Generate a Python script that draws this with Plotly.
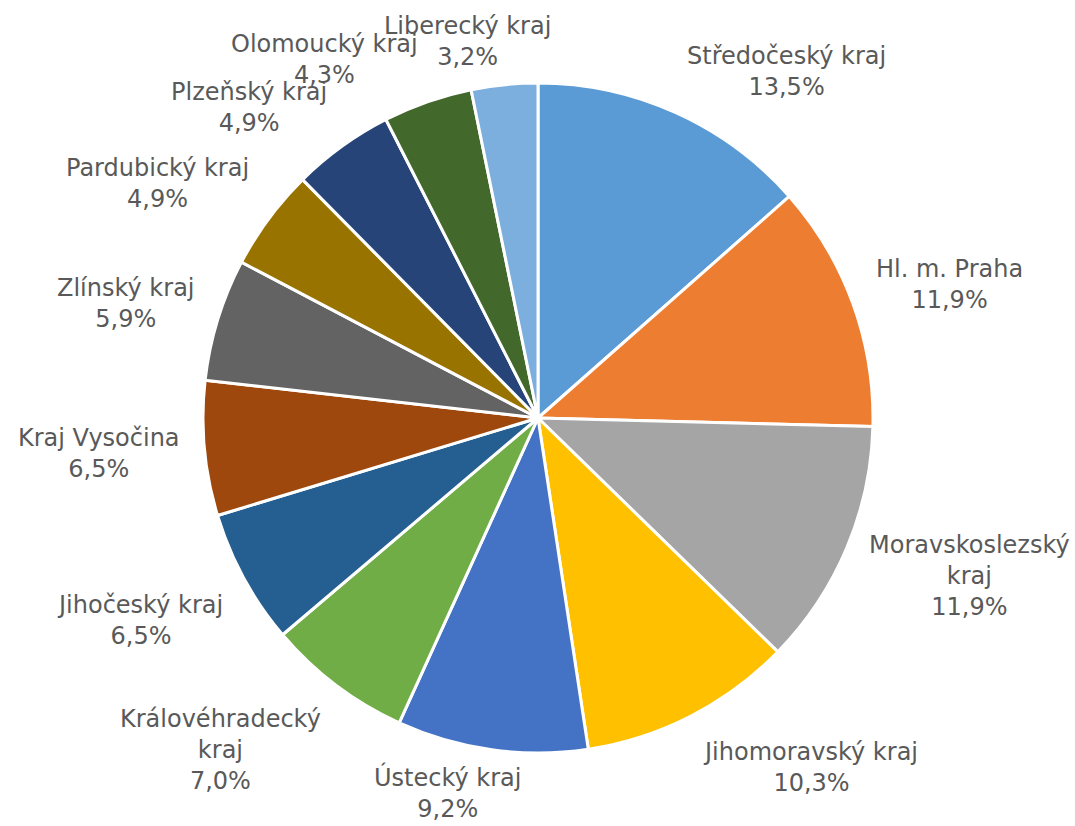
import math
import plotly.graph_objects as go

regions = ["Středočeský kraj", "Hl. m. Praha", "Moravskoslezský kraj", "Jihomoravský kraj",
           "Ústecký kraj", "Královéhradecký kraj", "Jihočeský kraj", "Kraj Vysočina",
           "Zlínský kraj", "Pardubický kraj", "Plzeňský kraj", "Olomoucký kraj", "Liberecký kraj"]
label_lines = ["Středočeský kraj", "Hl. m. Praha", "Moravskoslezský<br>kraj", "Jihomoravský kraj",
               "Ústecký kraj", "Královéhradecký<br>kraj", "Jihočeský kraj", "Kraj Vysočina",
               "Zlínský kraj", "Pardubický kraj", "Plzeňský kraj", "Olomoucký kraj", "Liberecký kraj"]
shares = [13.5, 11.9, 11.9, 10.3, 9.2, 7.0, 6.5, 6.5, 5.9, 4.9, 4.9, 4.3, 3.2]
colors = ["#5B9BD5", "#ED7D31", "#A5A5A5", "#FFC000", "#4472C4", "#70AD47", "#255E91",
          "#9E480E", "#636363", "#997300", "#264478", "#43682B", "#7CAFDD"]

W, H = 1075, 826
cx, cy, R = 538, 418, 335  # pie centre and radius in px
gap = 22
fs = 24
line_h = 1.3 * fs
char_w = 0.52 * fs  # rough average glyph width
desc_pad = 10       # box space below the last baseline

fig = go.Figure(go.Pie(
    labels=regions, values=shares, sort=False, direction="clockwise", rotation=0,
    marker=dict(colors=colors, line=dict(color="white", width=3)),
    textinfo="none", hoverinfo="label+percent", showlegend=False,
    domain=dict(x=[(cx - R) / W, (cx + R) / W], y=[(H - cy - R) / H, (H - cy + R) / H]),
))

total = sum(shares)
cum = 0.0
annotations = []
for name, val in zip(label_lines, shares):
    mid = (cum + val / 2) / total * 2 * math.pi
    cum += val
    dx, dy = math.sin(mid), -math.cos(mid)  # screen coords (y down)
    ax = cx + (R + gap) * dx
    ay = cy + (R + gap) * dy
    nlines = name.count("<br>") + 2
    bh = nlines * line_h + 4
    bw = max(len(s) for s in name.split("<br>")) * char_w
    if abs(dx) < 0.25:
        xa = "center"
        ax += dx / 0.25 * bw / 2
    else:
        xa = "left" if dx > 0 else "right"
    if abs(dy) < 0.4:
        ya = "middle"
        ay += dy * bh / 2
        top = ay - bh / 2
    elif dy > 0:
        ya = "top"
        top = ay
    else:
        ya = "bottom"
        ay += desc_pad
        top = ay - bh
    # keep the label box inside the page
    shift = 0.0
    if top < 0:
        shift = -top
    elif top + bh > H:
        shift = H - (top + bh)
    ay += shift
    pct = f"{val:.1f}".replace(".", ",") + "%"
    txt = f"{name}<br>{pct}"
    annotations.append(dict(
        x=ax / W, y=1 - ay / H, xref="paper", yref="paper", text=txt, showarrow=False,
        xanchor=xa, yanchor=ya, align="center",
        font=dict(family="DejaVu Sans", size=fs, color="#595959"),
    ))

fig.update_layout(
    width=W, height=H, margin=dict(l=0, r=0, t=0, b=0),
    paper_bgcolor="white", plot_bgcolor="white",
    annotations=annotations,
)
fig.write_html("out.html", config={"displayModeBar": False},
               post_script="document.body.style.margin='0';")
